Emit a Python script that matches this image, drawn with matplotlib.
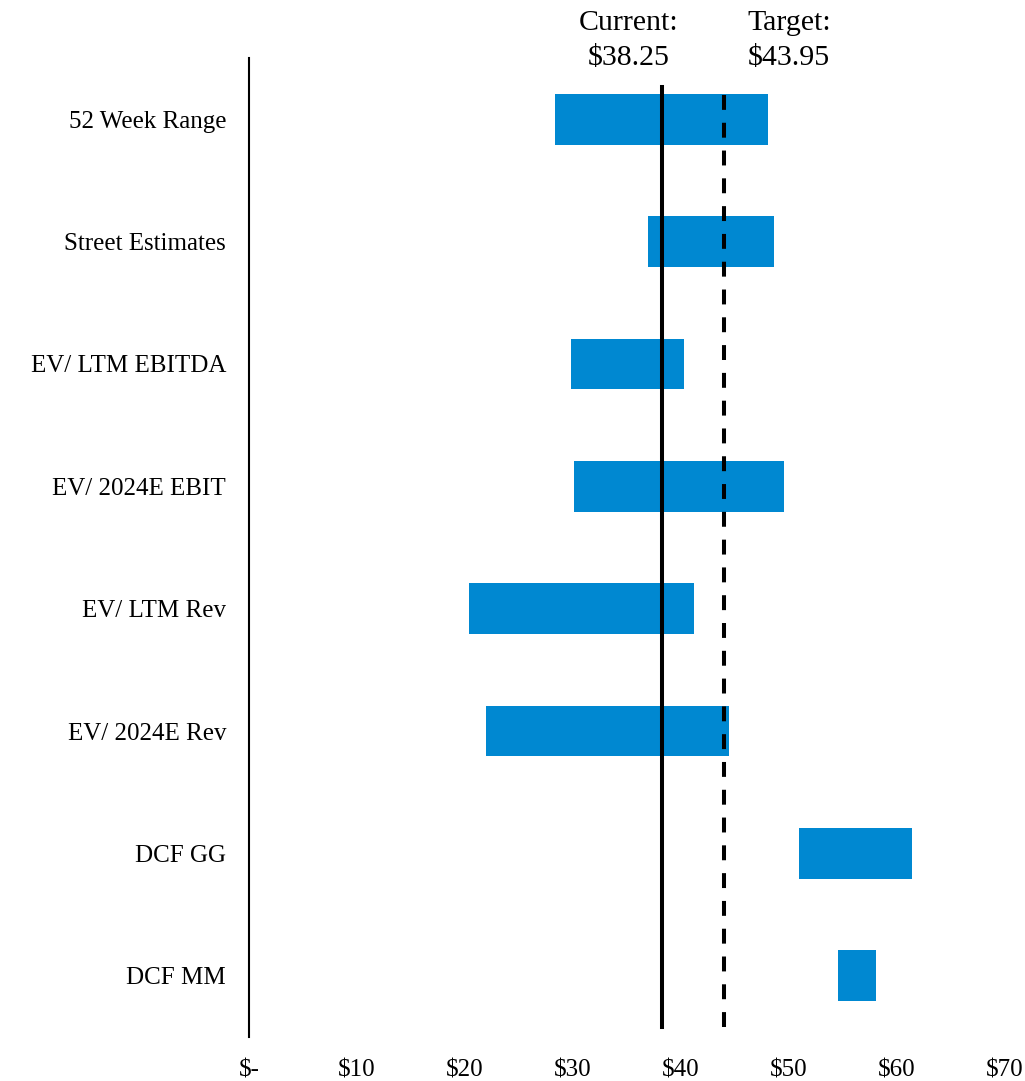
import matplotlib
matplotlib.use("Agg")
import matplotlib.pyplot as plt

plt.rcParams["font.family"] = ["Liberation Serif", "DejaVu Serif"]

# valuation ranges per method ($ per share)
categories = ["52 Week Range", "Street Estimates", "EV/ LTM EBITDA", "EV/ 2024E EBIT",
              "EV/ LTM Rev", "EV/ 2024E Rev", "DCF GG", "DCF MM"]
low = [28.3, 36.9, 29.8, 30.1, 20.4, 21.9, 50.9, 54.5]
high = [48.1, 48.6, 40.3, 49.5, 41.2, 44.4, 61.4, 58.1]

current_price = 38.25
target_price = 43.95

x_ticks = [0, 10, 20, 30, 40, 50, 60, 70]
x_labels = ["$-", "$10", "$20", "$30", "$40", "$50", "$60", "$70"]

BAR_COLOR = "#0088D1"

fig = plt.figure(figsize=(10.25, 10.81), dpi=100)
ax = fig.add_axes([0.2429, 0.0407, 0.7376, 0.9056])

ypos = list(range(len(categories)))
widths = [h - l for l, h in zip(low, high)]
ax.barh(ypos, widths, left=low, height=0.415, color=BAR_COLOR, zorder=2)

# current / target price markers
ax.axvline(current_price, ymin=0.0102, ymax=0.9704, color="black", lw=2.9, zorder=3)
ax.axvline(target_price, ymin=0.0102, ymax=0.9704, color="black", lw=2.9,
           dashes=(3.7, 3.2), zorder=3)

ax.set_xlim(0, 70)
ax.set_ylim(len(categories) - 0.5, -0.5)
ax.set_xticks(x_ticks)
ax.set_xticklabels(x_labels, fontsize=18)
ax.set_yticks(ypos)
ax.set_yticklabels(categories, fontsize=18)
ax.tick_params(axis="x", length=0, pad=16)
ax.tick_params(axis="y", length=0, pad=16.5)

for side in ["top", "right", "bottom"]:
    ax.spines[side].set_visible(False)
ax.spines["left"].set_linewidth(1.5)

# header labels above the marker lines
fig.text(0.6137, 0.9722, "Current:", ha="center", va="baseline", fontsize=21.5)
fig.text(0.6137, 0.9399, f"${current_price:.2f}", ha="center", va="baseline", fontsize=21.5)
fig.text(0.7698, 0.9722, "Target:", ha="center", va="baseline", fontsize=21.5)
fig.text(0.7698, 0.9399, f"${target_price:.2f}", ha="center", va="baseline", fontsize=21.5)

fig.savefig("out.png", dpi=100)
